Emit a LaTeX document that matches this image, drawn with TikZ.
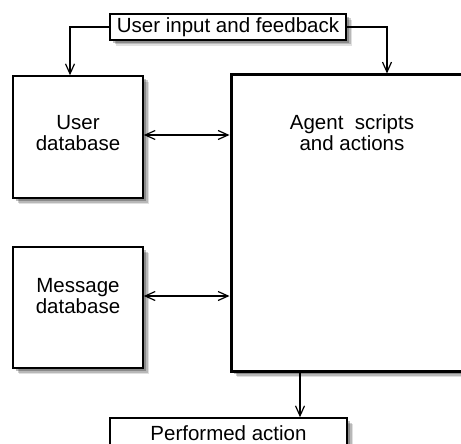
\documentclass[tikz,border=0pt]{standalone}
\usepackage{fontspec}
\setmainfont{Liberation Sans}
\usetikzlibrary{positioning, arrows.meta, shadows}

\tikzset{
  box/.style={draw, fill=white, line width=1.5pt, inner sep=0pt,
    drop shadow={shadow xshift=6pt, shadow yshift=-6pt, fill=black, opacity=.12},
    drop shadow={shadow xshift=4.5pt, shadow yshift=-4.5pt, fill=black, opacity=.18},
    drop shadow={shadow xshift=3pt, shadow yshift=-3pt, fill=black, opacity=.25}},
  agentbox/.style={box, line width=3pt},
  txt/.style={align=center, inner sep=0pt}
}

\begin{document}
\begin{tikzpicture}[x=1pt, y=-1pt, font=\fontsize{20.5}{21}\selectfont,
  >={Straight Barb[length=10pt,width=9pt]}, line width=1.2pt]
\useasboundingbox (0,0) rectangle (461,444);
\clip (0,0) rectangle (461,444);

\node[box, minimum width=236, minimum height=26] (feedback) at (228,27) {User input and feedback};
\node[box, minimum width=130, minimum height=122] (userdb) at (78,137) {};
\node[box, minimum width=130, minimum height=121] (msgdb) at (78,307.5) {};
\node[agentbox, minimum width=242, minimum height=296] (agent) at (352,223) {};
\node[box, minimum width=237, minimum height=30] (perform) at (228.5,433) {Performed action};

\node[txt] (usertxt) at ([yshift=4]userdb.center) {User\\database};
\node[txt] (msgtxt) at ([yshift=11.5]msgdb.center) {Message\\database};
\node[txt] (agenttxt) at ([yshift=-59]agent.north) {Agent~ scripts\\and actions};

\draw[->] (feedback.west) -| ([xshift=-8]userdb.north);
\draw[->] (feedback.east) -| ([xshift=35]agent.north);
\draw[<->] ([yshift=2]userdb.east) -- ([yshift=2]userdb.east -| agent.west);
\draw[<->] ([yshift=11.5]msgdb.east) -- ([yshift=11.5]msgdb.east -| agent.west);
\draw[->] ([xshift=-52]agent.south) -- ([xshift=-52]agent.south |- perform.north);

\end{tikzpicture}
\end{document}
